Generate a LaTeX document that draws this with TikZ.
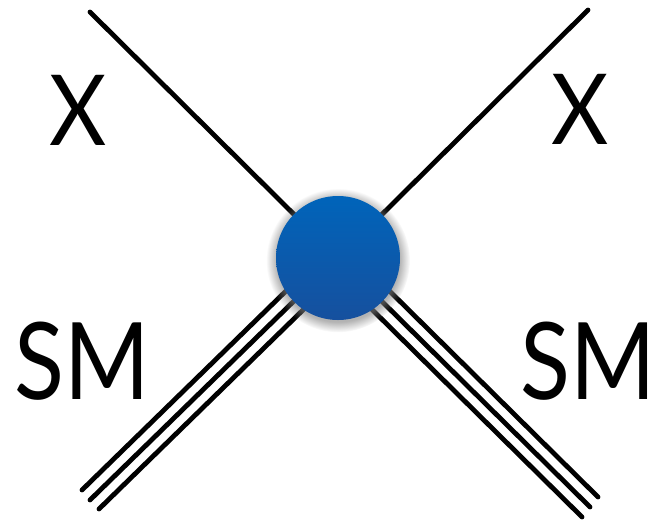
\documentclass[tikz,border=0pt]{standalone}
\usepackage{fontspec}
\setmainfont{Lato}
\usetikzlibrary{shadows,calc}

\definecolor{blobtop}{RGB}{0,100,186}
\definecolor{blobbottom}{RGB}{22,80,158}

\begin{document}
\begin{tikzpicture}[x=1pt,y=-1pt]

  \tikzset{
    leg/.style={line width=4.8pt, line cap=round},
    lbl/.style={inner sep=0pt, anchor=center},
    blob/.style={circle, minimum size=124pt, inner sep=0pt,
      top color=blobtop, bottom color=blobbottom,
      circular drop shadow={shadow xshift=0pt, shadow yshift=-2pt,
        shadow scale=1.16, opacity=0.6}}
  }

  \useasboundingbox (0,0) rectangle (655,523);

  % Vertex in the middle, its centre at (338,258)
  \coordinate (c) at (338,258);

  % --- Upper legs (X) ---
  \coordinate (xl) at (90,12);
  \coordinate (xr) at (588,10);
  \draw[leg] (xl) -- (c);
  \draw[leg] (xr) -- (c);

  % --- Lower legs (SM), three lines each ---
  \coordinate (sl1) at (82,490);
  \coordinate (sl2) at (90,500);
  \coordinate (sl3) at (99,509);
  \coordinate (sr1) at (598,497);
  \coordinate (sr2) at (590,507);
  \coordinate (sr3) at (582,517);
  \draw[leg] (sl1) -- ($(c)+(-9,-9)$);
  \draw[leg] (sl2) -- (c);
  \draw[leg] (sl3) -- ($(c)+(9,9)$);
  \draw[leg] (sr1) -- ($(c)+(9,-9)$);
  \draw[leg] (sr2) -- (c);
  \draw[leg] (sr3) -- ($(c)+(-9,9)$);

  % the blob on top of the legs
  \node[blob] (vtx) at (c) {};

  % --- Labels ---
  \node[lbl] (xleft) at (78,110) {\scalebox{0.9}[1]{\fontsize{98}{100}\selectfont X}};
  \node[lbl] (xright) at (580,109) {\scalebox{0.9}[1]{\fontsize{98}{100}\selectfont X}};
  \node[lbl] (smleft) at (82,361) {\scalebox{0.86}[1]{\fontsize{107}{110}\selectfont SM}};
  \node[lbl] (smright) at (588,361) {\scalebox{0.86}[1]{\fontsize{107}{110}\selectfont SM}};

\end{tikzpicture}
\end{document}
